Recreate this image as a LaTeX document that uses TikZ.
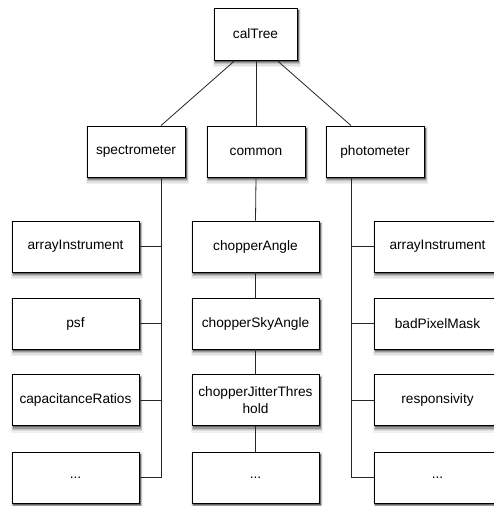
\documentclass[tikz,border=0pt]{standalone}
\usepackage{fontspec}
\setmainfont{Liberation Sans}
\newcommand\myshad[4]{%
  \fill[black!6]  ({#1-#3/2-1.5},{#2-#4/2})   rectangle ({#1+#3/2+3.5},{#2+#4/2+7});
  \fill[black!12] ({#1-#3/2-0.5},{#2-#4/2+1}) rectangle ({#1+#3/2+3},{#2+#4/2+5.5});
  \fill[black!24] ({#1-#3/2},{#2-#4/2+1.5})   rectangle ({#1+#3/2+2.5},{#2+#4/2+4.2});
  \fill[black!40] ({#1-#3/2+0.5},{#2-#4/2+2}) rectangle ({#1+#3/2+2},{#2+#4/2+3});
  \fill[black!60] ({#1-#3/2+1},{#2-#4/2+2})   rectangle ({#1+#3/2+1.5},{#2+#4/2+1.8});
}
\begin{document}
\begin{tikzpicture}[x=1pt,y=-1pt,
  box/.style={draw=black, line width=0.9pt, fill=white, inner sep=0pt,
    font=\fontsize{13.7}{16.5}\selectfont, align=center},
  topbox/.style={box, minimum width=83pt, minimum height=52pt},
  midbox/.style={box, minimum width=98pt, minimum height=51pt},
  leafbox/.style={box, minimum width=127pt, minimum height=51pt},
  conn/.style={draw=black!85, line width=0.8pt}]
\useasboundingbox (0,0) rectangle (494,506);
\fill[white] (0,0) rectangle (494,506);

\myshad{255.5}{34}{83}{52}
\foreach \cx in {136,256,375}{\myshad{\cx}{151.5}{98}{51}}
\foreach \cx in {75.5,255.5,437.5}{
  \foreach \cy in {246.5,323.5,400,477.5}{\myshad{\cx}{\cy}{127}{51}}}

\node[topbox] (cal) at (255.5,34) {calTree};
\node[midbox] (spec) at (136,151.5) {spectrometer};
\node[midbox] (com) at (256,151.5) {common};
\node[midbox] (phot) at (375,151.5) {photometer};

\node[leafbox] (s1) at (75.5,246.5) {arrayInstrument};
\node[leafbox] (s2) at (75.5,323.5) {psf};
\node[leafbox] (s3) at (75.5,400) {capacitanceRatios};
\node[leafbox] (s4) at (75.5,477.5) {...};

\node[leafbox] (m1) at (255.5,246.5) {chopperAngle};
\node[leafbox] (m2) at (255.5,323.5) {chopperSkyAngle};
\node[leafbox] (m3) at (255.5,400) {chopperJitterThres\\hold};
\node[leafbox] (m4) at (255.5,477.5) {...};

\node[leafbox] (p1) at (437.5,246.5) {arrayInstrument};
\node[leafbox] (p2) at (437.5,323.5) {badPixelMask};
\node[leafbox] (p3) at (437.5,400) {responsivity};
\node[leafbox] (p4) at (437.5,477.5) {...};

\draw[conn] ([xshift=-20.5]cal.south) -- ([xshift=25]spec.north);
\draw[conn] ([xshift=0.5]cal.south) -- (com.north);
\draw[conn] ([xshift=21.5]cal.south) -- ([xshift=-24]phot.north);

\coordinate (sspine) at ([xshift=25]spec.south);
\draw[conn] (sspine) |- (s4.east);
\draw[conn] (s1.east) -- (s1.east -| sspine);
\draw[conn] (s2.east) -- (s2.east -| sspine);
\draw[conn] (s3.east) -- (s3.east -| sspine);

\coordinate (pspine) at ([xshift=-24]phot.south);
\draw[conn] (pspine) |- (p4.west);
\draw[conn] (p1.west) -- (p1.west -| pspine);
\draw[conn] (p2.west) -- (p2.west -| pspine);
\draw[conn] (p3.west) -- (p3.west -| pspine);

\draw[conn] (com.south) -- (m1.north);
\draw[conn] (m1.south) -- (m2.north);
\draw[conn] (m2.south) -- (m3.north);
\draw[conn] (m3.south) -- (m4.north);
\end{tikzpicture}
\end{document}
